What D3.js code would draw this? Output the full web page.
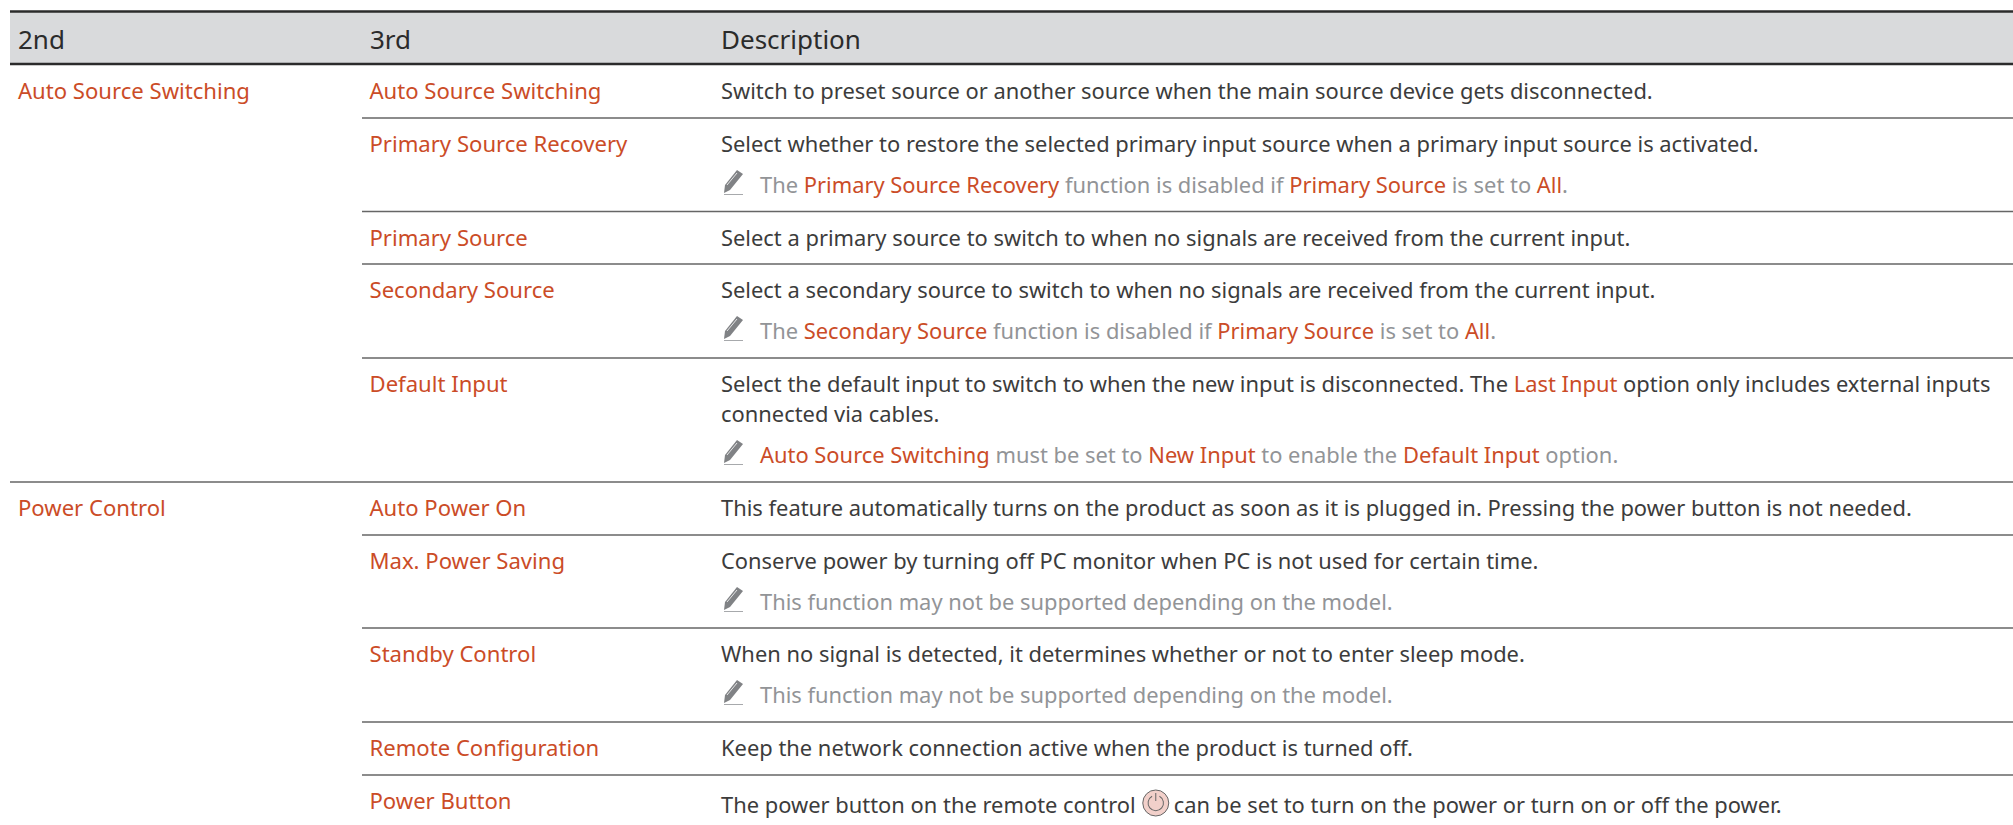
<!DOCTYPE html>
<html><head><meta charset="utf-8">
<script src="https://cdnjs.cloudflare.com/ajax/libs/d3/7.8.5/d3.min.js"></script>
<style>html,body{margin:0;padding:0;background:#fff}svg{display:block}
text{font-family:"Noto Sans",sans-serif;font-size:22.1px;fill:#3c3c3c}
.d text{font-size:21.9px}</style></head>
<body><svg id="c" width="2013" height="825"></svg>
<script>
const headers=["2nd","3rd","Description"];
const group2=[["Auto Source Switching",0],["Power Control",5]];
const names3=["Auto Source Switching","Primary Source Recovery","Primary Source","Secondary Source","Default Input","Auto Power On","Max. Power Saving","Standby Control","Remote Configuration","Power Button"];
// *x* = orange highlighted run; ~ prefix = grey note line with pencil; @ = power glyph
const descs=[
["Switch to preset source or another source when the main source device gets disconnected."],
["Select whether to restore the selected primary input source when a primary input source is activated.","~The *Primary Source Recovery* function is disabled if *Primary Source* is set to *All*."],
["Select a primary source to switch to when no signals are received from the current input."],
["Select a secondary source to switch to when no signals are received from the current input.","~The *Secondary Source* function is disabled if *Primary Source* is set to *All*."],
["Select the default input to switch to when the new input is disconnected. The *Last Input* option only includes external inputs","connected via cables.","~*Auto Source Switching* must be set to *New Input* to enable the *Default Input* option."],
["This feature automatically turns on the product as soon as it is plugged in. Pressing the power button is not needed."],
["Conserve power by turning off PC monitor when PC is not used for certain time.","~This function may not be supported depending on the model."],
["When no signal is detected, it determines whether or not to enter sleep mode.","~This function may not be supported depending on the model."],
["Keep the network connection active when the product is turned off."],
["The power button on the remote control @ can be set to turn on the power or turn on or off the power."]
];
const rowLines=[64,118,211.5,264,358,482,535,628,722,775];
const colEdges=[10,362,713,2013];
const x=d3.scaleOrdinal().domain(headers).range(colEdges.slice(0,3));
const svg=d3.select("#c");
const orange="#cb4c27", grey="#929497", ink="#3c3c3c";
svg.append("rect").attr("x",10).attr("y",11).attr("width",2003).attr("height",53).attr("fill","#d9dadc");
svg.append("g").selectAll("line").data([11.5,64]).join("line").attr("x1",10).attr("x2",2013).attr("y1",d=>d).attr("y2",d=>d).attr("stroke","#2b2b2b").attr("stroke-width",2.4);
const rules=rowLines.slice(1).map((y,i)=>({y,full:i===4}));
svg.append("g").selectAll("line").data(rules).join("line").attr("x1",d=>d.full?10:362).attr("x2",2013).attr("y1",d=>d.y).attr("y2",d=>d.y).attr("stroke","#666").attr("stroke-width",1.3);
svg.append("g").selectAll("text").data(headers).join("text").attr("x",d=>x(d)+8).attr("y",49).style("font-size","26px").style("fill","#2b2b2b").text(d=>d);
const base=i=>rowLines[i]+(i?34:35);
svg.append("g").selectAll("text").data(group2).join("text").attr("x",18).attr("y",d=>base(d[1])).style("fill",orange).text(d=>d[0]);
svg.append("g").selectAll("text").data(names3).join("text").attr("x",369.5).attr("y",(d,i)=>base(i)).style("fill",orange).text(d=>d);
function pencil(g,px,y){
  g.append("path").attr("d",`M${px+1},${y}L${px+2},${y-8}L${px+14},${y-23}L${px+20},${y-19}L${px+7},${y-3}Z`).attr("fill","#808285");
  g.append("line").attr("x1",px+4).attr("x2",px+14).attr("y1",y-8).attr("y2",y-20).attr("stroke","#fff").attr("stroke-width",.8);
  g.append("line").attr("x1",px+1).attr("x2",px+20).attr("y1",y+1.5).attr("y2",y+1.5).attr("stroke","#a7a9ac").attr("stroke-width",1);
}
function power(g,cx,cy){
  g.append("circle").attr("cx",cx).attr("cy",cy).attr("r",13).attr("fill","#f2d0ca").attr("stroke","#666").attr("stroke-width",1);
  g.append("path").attr("d",d3.arc()({innerRadius:7.2,outerRadius:8.2,startAngle:0.5,endAngle:2*Math.PI-0.5})).attr("transform",`translate(${cx},${cy})`).attr("fill","#666");
  g.append("line").attr("x1",cx).attr("x2",cx).attr("y1",cy-10).attr("y2",cy-2).attr("stroke","#666").attr("stroke-width",1);
}
const dg=svg.append("g").attr("class","d");
descs.forEach((lines,i)=>{
  let y=base(i)+(i===descs.length-1?4:0);
  lines.forEach((ln,j)=>{
    const note=ln[0]==="~"; if(note) ln=ln.slice(1);
    const g=dg.append("g");
    if(ln.includes("@")){
      const [a,b]=ln.split("@");
      const tx=g.append("text").attr("x",721).attr("y",y);
      tx.append("tspan").text(a.trimEnd());
      const w=tx.node().getComputedTextLength();
      tx.append("tspan").attr("x",721+w+38).text(b.trimStart());
      power(g,721+w+20,y-10);
    } else {
      const tx=g.append("text").attr("x",note?760:721).attr("y",y).style("fill",note?grey:ink);
      ln.split("*").forEach((p,k)=>{ if(p) tx.append("tspan").style("fill",k%2?orange:null).text(p); });
    }
    if(note) pencil(g,723,y);
    y+= (j+1<lines.length && lines[j+1][0]==="~") ? 41 : 30;
  });
});
</script></body></html>
